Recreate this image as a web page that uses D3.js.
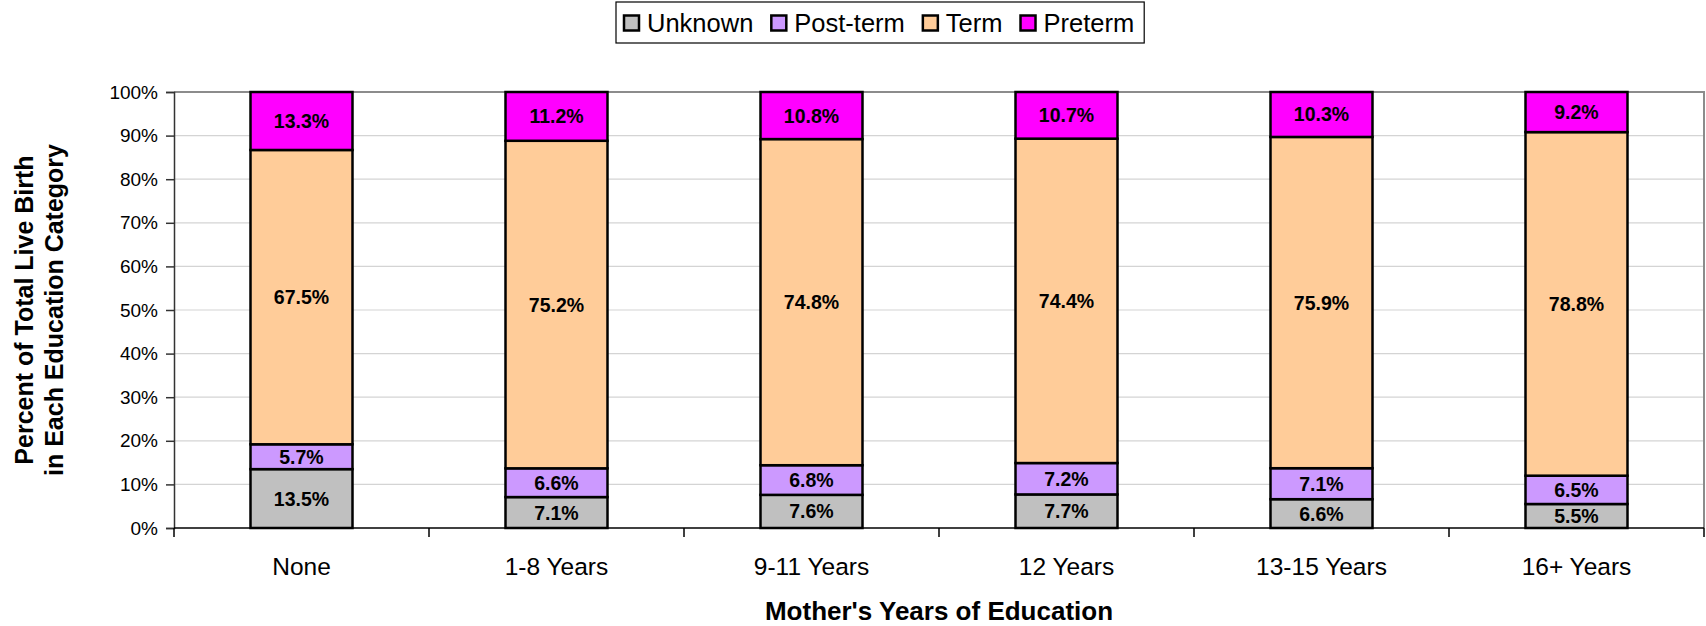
<!DOCTYPE html>
<meta charset="utf-8">
<style>
  body { margin: 0; background: #fff; }
  text { font-family: Arial, "Liberation Sans", sans-serif; }
</style>
<body>
<script src="https://cdn.jsdelivr.net/npm/d3@7"></script>
<script>

var width = 1706,
    height = 626;

// data
var categories = ["None", "1-8 Years", "9-11 Years", "12 Years", "13-15 Years", "16+ Years"];
var seriesNames = ["Unknown", "Post-term", "Term", "Preterm"];
var unknown  = [13.5, 7.1, 7.6, 7.7, 6.6, 5.5];
var postTerm = [5.7, 6.6, 6.8, 7.2, 7.1, 6.5];
var term     = [67.5, 75.2, 74.8, 74.4, 75.9, 78.8];
var preterm  = [13.3, 11.2, 10.8, 10.7, 10.3, 9.2];
var yTicks = [0, 10, 20, 30, 40, 50, 60, 70, 80, 90, 100];

var colors = ["#c0c0c0", "#cc99ff", "#ffcc99", "#ff00ff"];

var margin = {top: 92, right: 2, bottom: 98, left: 174};
var plotW = width - margin.left - margin.right,
    plotH = height - margin.top - margin.bottom;

// table for the stack: 100% stacked, so normalise each column
var rows = categories.map(function(c, i) {
  var vals = [unknown[i], postTerm[i], term[i], preterm[i]];
  var total = d3.sum(vals);
  var r = {cat: c};
  seriesNames.forEach(function(s, j) { r[s] = vals[j] / total * 100; r[s + "_raw"] = vals[j]; });
  return r;
});

var stacked = d3.stack().keys(seriesNames)(rows);

var svg = d3.select("body").append("svg")
    .attr("width", width)
    .attr("height", height);

var g = svg.append("g").attr("transform", "translate(" + margin.left + "," + margin.top + ")");

var x = d3.scaleBand().domain(categories).range([0, plotW]).paddingInner(0.6).paddingOuter(0.3);
var xb = d3.scaleBand().domain(categories).range([0, plotW]);
var y = d3.scaleLinear().domain([0, 100]).range([plotH, 0]);

// gridlines
g.selectAll(".grid").data(yTicks.filter(function(t) { return t > 0 && t < 100; }))
  .enter().append("line")
    .attr("x1", 0).attr("x2", plotW)
    .attr("y1", function(d) { return y(d); })
    .attr("y2", function(d) { return y(d); })
    .attr("stroke", "#d4d4d4")
    .attr("stroke-width", 1.2);

// top and right border
g.append("path")
    .attr("d", "M0," + y(100) + "H" + plotW + "V" + plotH)
    .attr("fill", "none")
    .attr("stroke", "#8c8c8c")
    .attr("stroke-width", 2);

// bars
var layer = g.selectAll(".layer").data(stacked).enter().append("g")
    .attr("fill", function(d, i) { return colors[i]; });

layer.selectAll("rect").data(function(d) { return d; })
  .enter().append("rect")
    .attr("x", function(d) { return x(d.data.cat); })
    .attr("width", x.bandwidth())
    .attr("y", function(d) { return y(d[1]); })
    .attr("height", function(d) { return y(d[0]) - y(d[1]); })
    .attr("stroke", "#000")
    .attr("stroke-width", 2.5);

// bar labels
stacked.forEach(function(s) {
  g.selectAll(null).data(s).enter().append("text")
      .attr("x", function(d) { return x(d.data.cat) + x.bandwidth() / 2; })
      .attr("y", function(d) { return (y(d[0]) + y(d[1])) / 2; })
      .attr("dy", "0.36em")
      .attr("text-anchor", "middle")
      .attr("font-size", "19.5px")
      .attr("font-weight", "bold")
      .attr("fill", "#000")
      .text(function(d) { return d.data[s.key + "_raw"].toFixed(1) + "%"; });
});

// y axis
var yAxis = g.append("g")
    .call(d3.axisLeft(y).tickValues(yTicks).tickSize(8).tickPadding(8)
      .tickFormat(function(d) { return d + "%"; }));
yAxis.select(".domain").attr("stroke", "#333").attr("stroke-width", 1.5);
yAxis.selectAll(".tick line").attr("stroke", "#333").attr("stroke-width", 1.5);
yAxis.selectAll("text").attr("font-size", "19px").attr("fill", "#000")
    .attr("font-family", "Arial, 'Liberation Sans', sans-serif");

// x axis: ticks at category boundaries
var xAxis = g.append("g").attr("transform", "translate(0," + plotH + ")");
xAxis.append("line").attr("x1", 0).attr("x2", plotW)
    .attr("stroke", "#000").attr("stroke-width", 1.5);
var bounds = categories.map(function(c) { return xb(c); }).concat([plotW]);
xAxis.selectAll(".xt").data(bounds).enter().append("line")
    .attr("x1", function(d) { return d; }).attr("x2", function(d) { return d; })
    .attr("y1", 0).attr("y2", 9)
    .attr("stroke", "#000").attr("stroke-width", 1.5);
xAxis.selectAll(".xl").data(categories).enter().append("text")
    .attr("x", function(d) { return xb(d) + xb.bandwidth() / 2; })
    .attr("y", 47)
    .attr("text-anchor", "middle")
    .attr("font-size", "24.5px")
    .text(function(d) { return d; });

// axis titles
svg.append("text")
    .attr("x", margin.left + plotW / 2)
    .attr("y", 620)
    .attr("text-anchor", "middle")
    .attr("font-size", "26px")
    .attr("font-weight", "bold")
    .text("Mother's Years of Education");

var yt = svg.append("text")
    .attr("transform", "translate(0," + (margin.top + plotH / 2) + ") rotate(-90)")
    .attr("text-anchor", "middle")
    .attr("font-size", "25px")
    .attr("font-weight", "bold");
yt.append("tspan").attr("x", 0).attr("y", 33).text("Percent of Total Live Birth");
yt.append("tspan").attr("x", 0).attr("y", 63).text("in Each Education Category");

// legend
var legend = svg.append("g");
var lx = 624, ly = 23, cur = lx;
seriesNames.forEach(function(name, i) {
  legend.append("rect").attr("x", cur).attr("y", ly - 7.5).attr("width", 15).attr("height", 15)
      .attr("fill", colors[i]).attr("stroke", "#000").attr("stroke-width", 2.5);
  var t = legend.append("text").attr("x", cur + 23).attr("y", ly).attr("dy", "0.36em")
      .attr("font-size", "25.5px").text(name);
  cur += 23 + t.node().getComputedTextLength() + 18;
});
legend.insert("rect", ":first-child")
    .attr("x", 616).attr("y", 2)
    .attr("width", cur - 18 + 10 - 616).attr("height", 41)
    .attr("fill", "#fff").attr("stroke", "#000").attr("stroke-width", 1.2);

</script>
